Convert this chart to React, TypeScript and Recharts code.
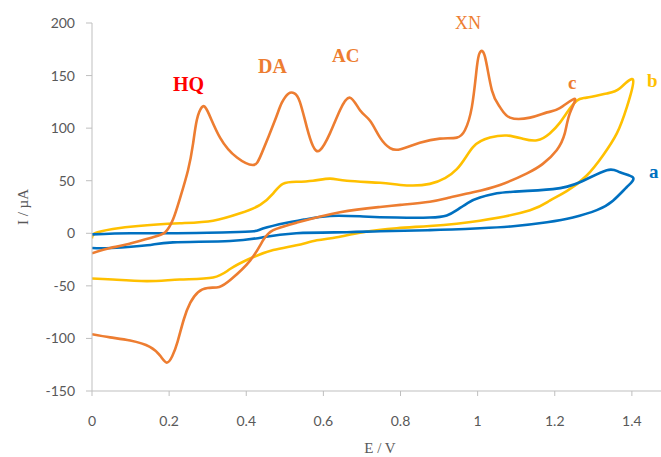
import React from 'react';
import { LineChart, Line, XAxis, YAxis } from 'recharts';

// Curve a (blue): forward scan then reverse scan, [E (V), I (µA)]
const curveA: [number, number][] = [
  [0, -1], [0.1, 0], [0.2, 0], [0.3, 0.5], [0.358, 1], [0.42, 2], [0.443, 4.5], [0.505, 10],
  [0.55, 13], [0.617, 16.5], [0.703, 16], [0.79, 15], [0.876, 15], [0.92, 17], [0.946, 22],
  [0.975, 29], [1.006, 34], [1.05, 38], [1.092, 39.5], [1.195, 42], [1.265, 48.5], [1.335, 60],
  [1.369, 58], [1.403, 53],
  [1.387, 44], [1.351, 31], [1.309, 22], [1.247, 15], [1.18, 10.5], [1.092, 6.7], [1.006, 4.8],
  [0.876, 3], [0.747, 2], [0.661, 1], [0.53, 0], [0.443, -3.8], [0.358, -7.3], [0.21, -8.6],
  [0.143, -11.4], [0.05, -14], [0, -14],
];

// Curve b (yellow)
const curveB: [number, number][] = [
  [0, -5], [0.008, 0], [0.054, 4], [0.12, 7], [0.228, 9.5], [0.314, 12], [0.384, 19], [0.436, 27],
  [0.47, 38], [0.495, 47], [0.53, 49], [0.573, 50], [0.617, 52], [0.661, 50], [0.747, 48], [0.8, 46],
  [0.876, 47], [0.946, 61], [0.988, 82], [1.032, 91], [1.076, 93], [1.117, 90], [1.154, 88.5],
  [1.187, 95], [1.213, 105], [1.23, 114], [1.257, 126], [1.283, 129], [1.335, 133], [1.369, 138],
  [1.403, 146],
  [1.387, 120], [1.361, 95], [1.325, 74], [1.283, 55], [1.231, 40], [1.187, 31], [1.136, 22],
  [1.006, 12], [0.876, 7], [0.79, 4.8], [0.703, 1], [0.635, -3.8], [0.583, -6.7], [0.53, -11.4],
  [0.47, -16], [0.41, -24], [0.358, -34], [0.314, -42], [0.228, -44], [0.143, -45.5], [0.054, -44],
  [0, -43],
];

// Curve c (orange)
const curveC: [number, number][] = [
  [0, -19], [0.047, -14], [0.086, -11], [0.156, -4], [0.19, 1], [0.21, 13], [0.228, 33], [0.249, 60],
  [0.262, 85], [0.272, 108], [0.285, 120], [0.3, 116], [0.332, 91], [0.376, 72], [0.417, 65],
  [0.44, 76], [0.474, 107], [0.492, 124], [0.51, 133], [0.525, 133], [0.539, 125], [0.557, 101],
  [0.573, 83], [0.591, 79], [0.617, 95], [0.643, 117], [0.669, 129], [0.695, 117], [0.721, 107],
  [0.747, 91], [0.773, 81], [0.8, 80], [0.85, 86], [0.902, 90], [0.946, 91], [0.967, 98],
  [0.985, 120], [0.998, 158], [1.006, 172], [1.019, 168], [1.037, 136], [1.058, 120], [1.084, 110],
  [1.136, 110], [1.18, 115], [1.213, 119], [1.252, 128],
  [1.239, 114], [1.226, 95], [1.205, 79], [1.169, 66], [1.128, 57], [1.058, 46], [0.988, 39],
  [0.928, 34], [0.876, 30], [0.8, 27], [0.747, 25], [0.643, 20], [0.53, 10], [0.47, 3],
  [0.443, -7], [0.41, -26], [0.36, -44], [0.33, -51], [0.3, -52], [0.275, -56], [0.255, -66],
  [0.238, -82], [0.222, -103], [0.208, -117], [0.194, -123], [0.178, -117], [0.15, -108],
  [0.099, -102], [0.047, -99], [0, -96],
];

const xTicks = [0, 0.2, 0.4, 0.6, 0.8, 1, 1.2, 1.4];
const yTicks = [-150, -100, -50, 0, 50, 100, 150, 200];
const xTickLabels = ['0', '0.2', '0.4', '0.6', '0.8', '1', '1.2', '1.4'];

const toRows = (pts: [number, number][]) => pts.map(([x, y]) => ({ x, y }));

const BLUE = '#0070C0';
const ORANGE = '#ED7D31';
const YELLOW = '#FFC000';
const GRAY = '#595959';
const AXIS = '#BFBFBF';

export default function App() {
  const tickStyle = { fontFamily: 'Lato, sans-serif', fontSize: 14, fill: GRAY };
  return (
    <div style={{ position: 'fixed', left: 0, top: 0, width: 661, height: 457, overflow: 'hidden', background: '#fff' }}>
      <LineChart width={720} height={457} margin={{ top: 23, right: 11, bottom: 26, left: 32 }}>
        <XAxis
          type="number"
          dataKey="x"
          domain={[0, 1.6]}
          ticks={xTicks}
          tickFormatter={(v: number) => xTickLabels[xTicks.indexOf(v)] ?? String(v)}
          axisLine={{ stroke: AXIS }}
          tickLine={{ stroke: AXIS }}
          tickSize={5}
          tickMargin={20}
          tick={tickStyle}
          height={40}
          allowDataOverflow
        />
        <YAxis
          type="number"
          dataKey="y"
          domain={[-150, 200]}
          ticks={yTicks}
          axisLine={{ stroke: AXIS }}
          tickLine={{ stroke: AXIS }}
          tickSize={6}
          tickMargin={11}
          tick={tickStyle}
          width={60}
          allowDataOverflow
        />
        <Line data={toRows(curveB)} dataKey="y" type="natural" stroke={YELLOW} strokeWidth={2.6} dot={false} isAnimationActive={false} />
        <Line data={toRows(curveA)} dataKey="y" type="natural" stroke={BLUE} strokeWidth={2.6} dot={false} isAnimationActive={false} />
        <Line data={toRows(curveC)} dataKey="y" type="natural" stroke={ORANGE} strokeWidth={2.6} dot={false} isAnimationActive={false} />
      </LineChart>
      <svg width={661} height={457} style={{ position: 'absolute', left: 0, top: 0, pointerEvents: 'none' }}>
        <g fontFamily="'Liberation Serif', 'DejaVu Serif', serif" fontWeight="bold">
          <text x={173} y={91} fontSize={20} fill="#FF0000">HQ</text>
          <text x={258} y={73} fontSize={20} fill={ORANGE}>DA</text>
          <text x={332} y={62} fontSize={19} fill={ORANGE}>AC</text>
          <text x={455} y={29} fontSize={18} fill={ORANGE} fontWeight="normal">XN</text>
          <text x={568} y={89} fontSize={19} fill={ORANGE}>c</text>
          <text x={647} y={87} fontSize={19} fill={YELLOW}>b</text>
          <text x={649} y={178} fontSize={19} fill={BLUE}>a</text>
        </g>
        <text x={23} y={207} transform="rotate(-90 23 207)" textAnchor="middle" dominantBaseline="central"
          fontFamily="'Liberation Serif', serif" fontSize={15} fill={GRAY}>I / µA</text>
        <text x={380} y={453} textAnchor="middle" fontFamily="'Liberation Serif', serif" fontSize={15} fill={GRAY}>E / V</text>
      </svg>
    </div>
  );
}
